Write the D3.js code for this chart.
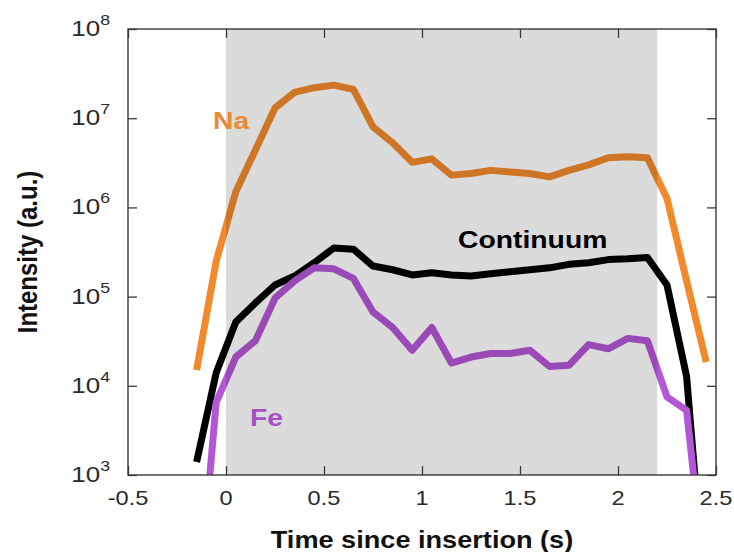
<!DOCTYPE html>
<html><head><meta charset="utf-8">
<script src="https://cdn.jsdelivr.net/npm/d3@7"></script>
<style>
body{margin:0;background:#fff}
svg{display:block}
text{font-family:"Liberation Sans",Arial,Helvetica,sans-serif}
</style>
</head><body>
<svg id="chart" width="734" height="552"></svg>
<script>
// ---- data ----
const time = [-0.15,-0.05,0.05,0.15,0.25,0.35,0.45,0.55,0.65,0.75,0.85,0.95,1.05,1.15,1.25,1.35,1.45,1.55,1.65,1.75,1.85,1.95,2.05,2.15,2.25,2.35,2.45];
const naValues = [1.5e4,2.5e5,1.5e6,4.4e6,1.3e7,1.95e7,2.2e7,2.35e7,2.1e7,8e6,5.3e6,3.2e6,3.5e6,2.3e6,2.4e6,2.6e6,2.5e6,2.4e6,2.2e6,2.6e6,3.0e6,3.6e6,3.7e6,3.6e6,1.26e6,1.5e5,1.85e4];
const continuumValues = [1.4e3,1.4e4,5.2e4,8.5e4,1.35e5,1.7e5,2.4e5,3.5e5,3.4e5,2.2e5,2.0e5,1.75e5,1.85e5,1.75e5,1.7e5,1.8e5,1.9e5,2.0e5,2.1e5,2.3e5,2.4e5,2.6e5,2.65e5,2.75e5,1.35e5,1.27e4,30];
const feValues = [20,6.5e3,2.1e4,3.2e4,9.6e4,1.5e5,2.1e5,2.05e5,1.6e5,6.7e4,4.5e4,2.5e4,4.5e4,1.8e4,2.1e4,2.3e4,2.3e4,2.5e4,1.65e4,1.7e4,2.9e4,2.6e4,3.4e4,3.2e4,7.5e3,5.3e3,50];
const seriesNames = ["Na","Continuum","Fe"];
const seriesColors = ["#f08a2c","#000000","#b457d6"];
const labelColors = ["#ea8a35","#000000","#a64fc6"];
const xTicks = [-0.5,0,0.5,1,1.5,2,2.5];
const xTickLabels = ["-0.5","0","0.5","1","1.5","2","2.5"];
const yTicks = [1e3,1e4,1e5,1e6,1e7,1e8];
const yTickExponents = ["3","4","5","6","7","8"];
const shadedRange = [0, 2.2];
const xTitle = "Time since insertion (s)";
const yTitle = "Intensity (a.u.)";

// ---- layout ----
const SX = 1.18; // horizontal text stretch seen in the reference
const svg = d3.select("#chart");
const L = 128, T = 29, R = 716, B = 475;
const x = d3.scaleLinear().domain([-0.5, 2.5]).range([L, R]);
const y = d3.scaleLog().domain([1e3, 1e8]).range([B, T]);

svg.append("rect").attr("width",734).attr("height",552).attr("fill","#fff");

svg.append("defs").append("clipPath").attr("id","plotclip")
  .append("rect").attr("x",L).attr("y",T).attr("width",R-L).attr("height",B-T);

const series = [naValues, continuumValues, feValues];
const line = d3.line().x(d => x(d[0])).y(d => y(d[1]));
const g = svg.append("g").attr("clip-path","url(#plotclip)");
series.forEach((vals, i) => {
  g.append("path")
    .datum(time.map((t, j) => [t, vals[j]]))
    .attr("d", line)
    .attr("fill","none")
    .attr("stroke", seriesColors[i])
    .attr("stroke-width", 7)
    .attr("stroke-linejoin","round");
});

// shaded insertion window (drawn over the lines, darkening them)
svg.append("rect")
  .attr("x", x(shadedRange[0])).attr("y", T)
  .attr("width", x(shadedRange[1]) - x(shadedRange[0])).attr("height", B - T)
  .attr("fill","#000").attr("fill-opacity",0.14);

// axes via d3 axis generators, ticks inward
const axCol = "#3a3a3a";
function styleAxis(sel){
  sel.select(".domain").remove();
  sel.selectAll(".tick line").attr("stroke",axCol).attr("stroke-width",1.3);
  sel.selectAll(".tick text").remove();
}
svg.append("g").attr("transform",`translate(0,${B})`)
  .call(d3.axisBottom(x).tickValues(xTicks).tickSize(-9)).call(styleAxis);
svg.append("g").attr("transform",`translate(0,${T})`)
  .call(d3.axisTop(x).tickValues(xTicks).tickSize(-9)).call(styleAxis);
svg.append("g").attr("transform",`translate(${L},0)`)
  .call(d3.axisLeft(y).tickValues(yTicks).tickSize(-9)).call(styleAxis);
svg.append("g").attr("transform",`translate(${R},0)`)
  .call(d3.axisRight(y).tickValues(yTicks).tickSize(-9)).call(styleAxis);

svg.append("rect").attr("x",L).attr("y",T).attr("width",R-L).attr("height",B-T)
  .attr("fill","none").attr("stroke",axCol).attr("stroke-width",1.4);

function stretchedText(px, py, opts){
  const t = svg.append("text")
    .attr("transform", `translate(${px},${py}) scale(${SX},1)` + (opts.rotate ? ` rotate(${opts.rotate})` : ""))
    .attr("text-anchor", opts.anchor || "start")
    .attr("font-size", opts.size)
    .attr("font-weight", opts.weight || "normal")
    .attr("fill", opts.fill || "#222");
  if (opts.text !== undefined) t.text(opts.text);
  return t;
}

// x tick labels
xTicks.forEach((v, i) => {
  stretchedText(x(v), 505, {text: xTickLabels[i], size: 20, anchor: "middle", fill:"#2a2a2a"});
});
// y tick labels 10^n
yTicks.forEach((v, i) => {
  const t = stretchedText(L - 18, y(v) + 7, {size: 22, anchor: "end", fill:"#2a2a2a"});
  t.append("tspan").text("10");
  t.append("tspan").attr("font-size", 15).attr("dy", -11).text(yTickExponents[i]);
});

// axis titles
stretchedText((L+R)/2, 548, {text: xTitle, size: 23, weight: "bold", anchor: "middle", fill:"#111"});
stretchedText(37, (T+B)/2, {text: yTitle, size: 24, weight: "bold", anchor: "middle", rotate: -90, fill:"#111"});

// series labels
stretchedText(213, 129, {text: seriesNames[0], size: 24, weight: "bold", fill: labelColors[0]});
stretchedText(458, 248, {text: seriesNames[1], size: 24, weight: "bold", fill: labelColors[1]});
stretchedText(250, 426, {text: seriesNames[2], size: 24, weight: "bold", fill: labelColors[2]});
</script>
</body></html>
